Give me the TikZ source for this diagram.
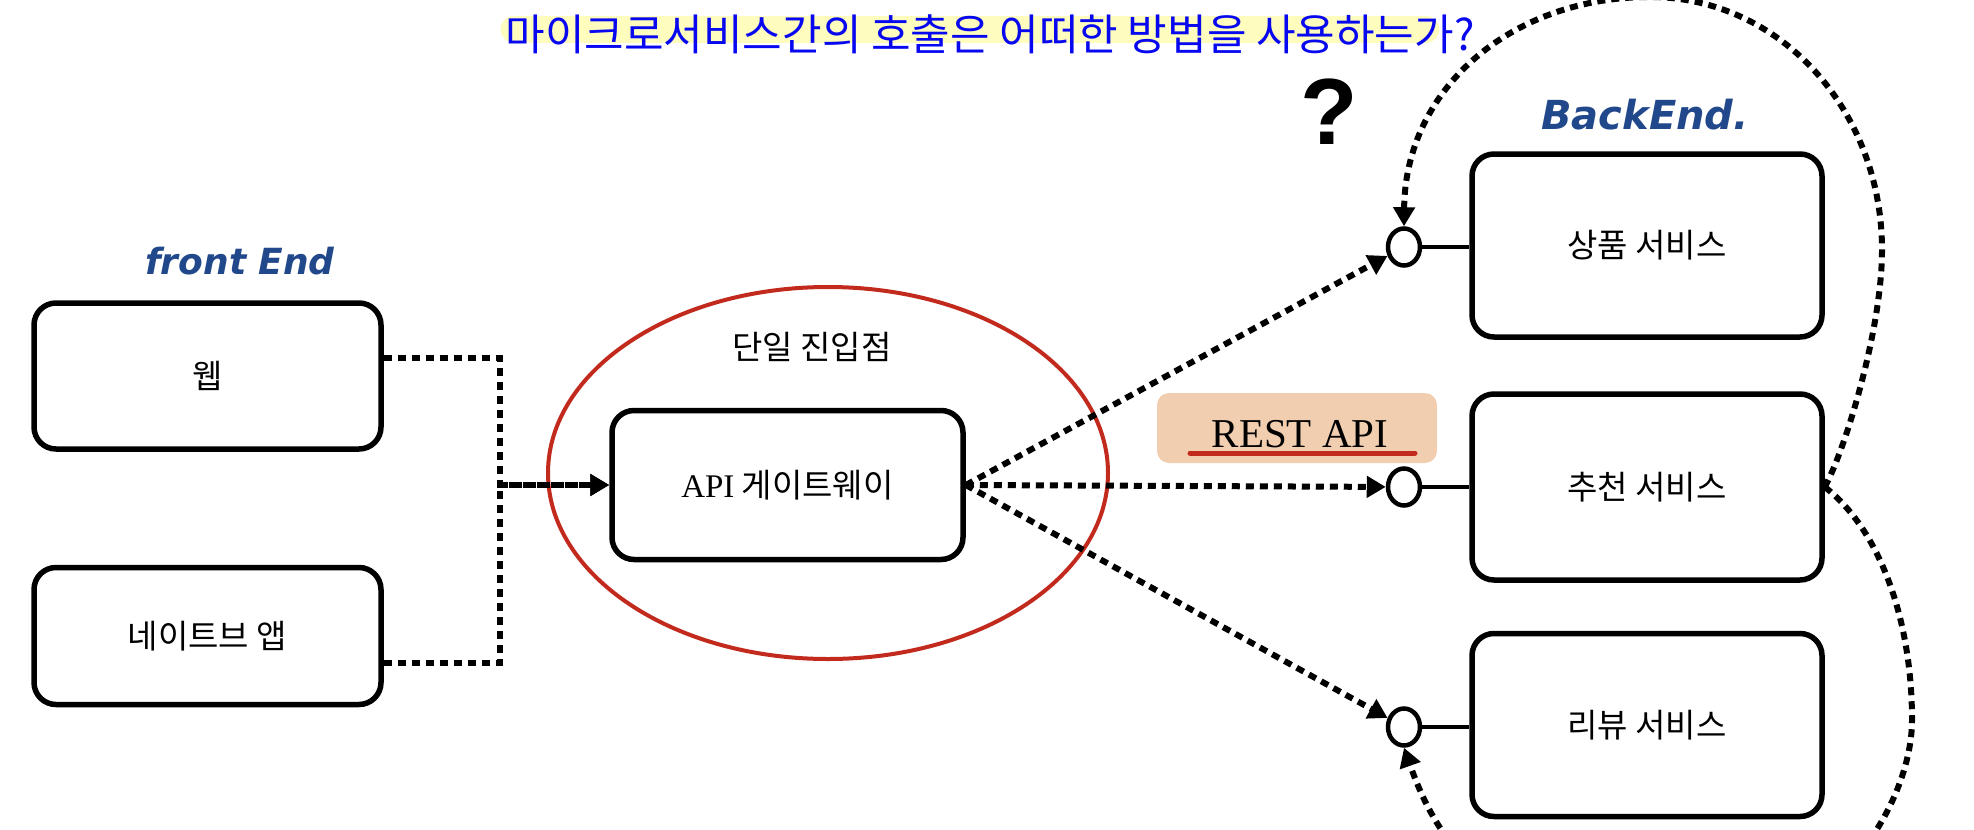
\documentclass[tikz,border=0pt]{standalone}
\usepackage{fontspec}
\newfontfamily\kr{Noto Sans CJK KR}
\newfontfamily\ser{Liberation Serif}
\newfontfamily\lsans{Liberation Sans}
\newfontfamily\hand{DejaVu Sans}
\usetikzlibrary{arrows.meta,shapes.geometric}
\newcommand\fsz[1]{\fontsize{#1}{#1}\selectfont}
\definecolor{titleblue}{RGB}{8,8,240}
\definecolor{hilite}{RGB}{255,253,190}
\definecolor{handblue}{RGB}{34,72,140}
\definecolor{ellred}{RGB}{195,42,30}
\definecolor{peach}{RGB}{242,206,177}
\begin{document}
\begin{tikzpicture}[x=1pt,y=-1pt,
  box/.style={draw, line width=5.5pt, rounded corners=22pt, minimum width=347pt, inner sep=0pt, font=\kr\fsz{33}},
  svc/.style={box, minimum width=350pt},
  port/.style={draw, ellipse, line width=4.5pt, minimum width=32pt, minimum height=37pt, inner sep=0pt, fill=white},
  dotline/.style={line width=6pt, dash pattern=on 8pt off 6pt},
  arrowend/.style={-{Triangle[length=19pt,width=21pt]}},
  handtext/.style={font=\hand\itshape\bfseries, text=handblue, inner sep=0pt}
]
\useasboundingbox (0,0) rectangle (1974,830);
\fill[white] (0,0) rectangle (1974,830);
\clip (0,0) rectangle (1974,830);

% title
\draw[hilite, line width=27pt, line cap=round] (514,29) -- (1426,29);
\node[font=\kr\fsz{43}, text=titleblue, inner sep=0pt] (title) at (990,34) {마이크로서비스간의 호출은 어떠한 방법을 사용하는가?};
\node[font=\lsans\bfseries\fsz{94}, inner sep=0pt] (qmark) at (1329,112) {?};

% handwritten labels
\node[handtext, font=\hand\itshape\bfseries\fsz{36}] (fe) at (240,261) {front End};
\node[handtext, font=\hand\itshape\bfseries\fsz{40}] (be) at (1645,115) {BackEnd.};

% front end boxes
\node[box, minimum height=146pt] (web) at (207.5,376) {웹};
\node[box, minimum height=137pt] (native) at (207.5,636) {네이트브 앱};

% gateway
\draw[ellred, line width=4pt] (828,473) ellipse [x radius=280pt, y radius=186pt];
\node[font=\kr\fsz{33}, inner sep=0pt] (single) at (812,347) {단일 진입점};
\node[box, minimum width=351pt, minimum height=149pt] (api) at (787.5,485) {{\ser API} 게이트웨이};

% services
\node[svc, minimum height=183pt] (s1) at (1647,245.5) {상품 서비스};
\node[svc, minimum height=186pt] (s2) at (1647,487) {추천 서비스};
\node[svc, minimum height=183pt] (s3) at (1647,725) {리뷰 서비스};

% ports
\node[port] (c1) at (1404,247) {};
\node[port] (c2) at (1404,487) {};
\node[port] (c3) at (1404,727) {};
\draw[line width=4.5pt] (c1.east) -- (c1.east -| s1.west);
\draw[line width=4.5pt] (c2.east) -- (c2.east -| s2.west);
\draw[line width=4.5pt] (c3.east) -- (c3.east -| s3.west);

% REST API label
\node[fill=peach, rounded corners=12pt, minimum width=280pt, minimum height=70pt, inner sep=0pt] (restbox) at (1297,428) {};
\node[font=\ser\fsz{41}, anchor=base, inner sep=0pt] (rest) at (1300,447) {REST API};
\draw[ellred, line width=5pt, line cap=round] (1190,453) -- (1415,453);

% front-end connectors
\coordinate (j) at (500,485);
\draw[dotline, arrowend] ([yshift=18pt]web.east) -| (j) -- (api.west);
\draw[dotline, arrowend] ([yshift=-27pt]native.east) -| (j) -- (api.west);

% gateway to services
\draw[dotline, arrowend] (api.east) -- (c1);
\draw[dotline, arrowend] (api.east) -- (c2);
\draw[dotline, arrowend] (api.east) -- (c3);

% service to service loops
\draw[dotline, arrowend] (s2.east) .. controls (1845,450) and (1882,330) .. (1882,250)
  .. controls (1882,110) and (1780,-3) .. (1650,-3)
  .. controls (1510,-3) and (1405,90) .. (c1.north);
\draw[dotline, arrowend] (s2.east) .. controls (1880,530) and (1912,620) .. (1912,720)
  .. controls (1912,800) and (1840,920) .. (1720,935)
  .. controls (1500,940) and (1440,850) .. (c3.south);
\end{tikzpicture}
\end{document}
